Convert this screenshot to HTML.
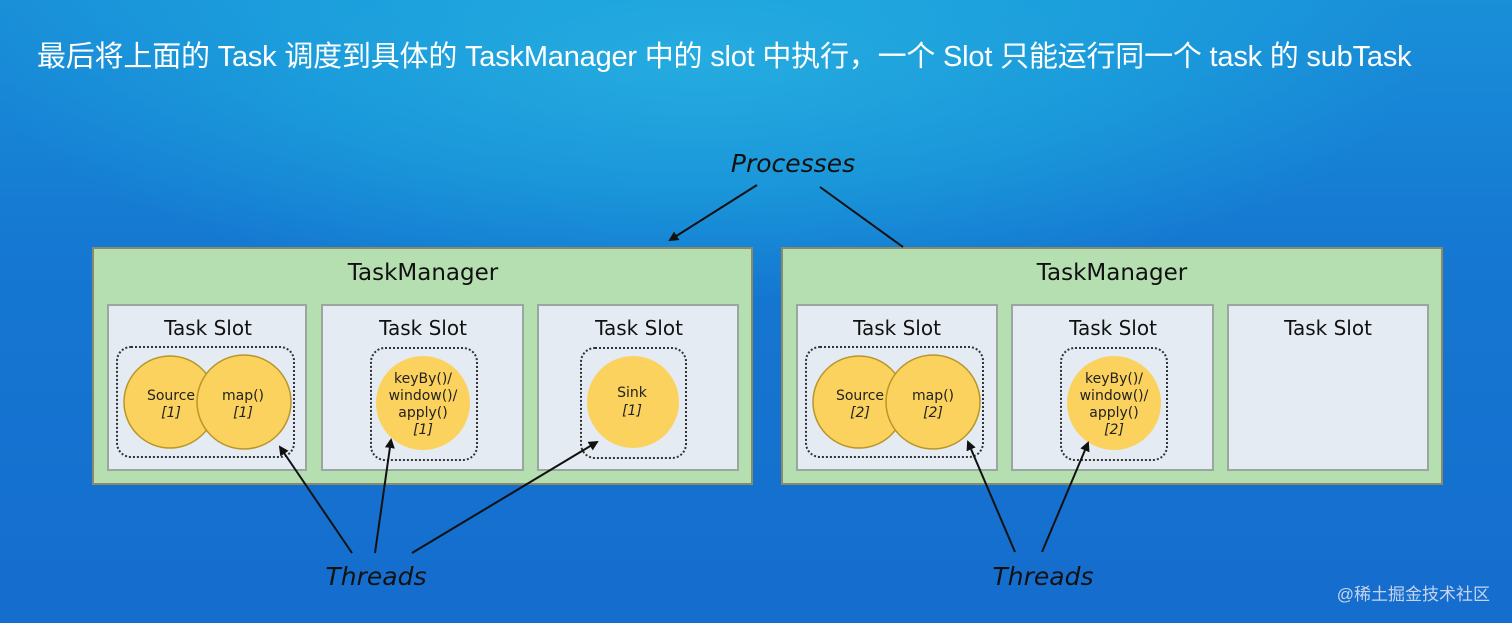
<!DOCTYPE html>
<html><head><meta charset="utf-8"><style>
html,body{margin:0;padding:0}
body{width:1512px;height:623px;overflow:hidden;background:radial-gradient(ellipse 900px 300px at 700px 60px,#2bb0e0 0%,#1a95d8 45%,#1575d0 80%),#1568cc;position:relative;font-family:"Liberation Sans","DejaVu Sans",sans-serif}
.bg{position:absolute;inset:0;background:linear-gradient(180deg,rgba(30,170,225,0.5) 0%,rgba(20,130,215,0.2) 40%,rgba(20,90,200,0.3) 100%)}
.title{position:absolute;left:37px;top:33px;color:#fff;font-size:29px;font-family:"Liberation Sans","Noto Sans CJK SC",sans-serif;white-space:nowrap;letter-spacing:-0.2px}
svg{position:absolute;left:0;top:0}
</style></head><body>
<div class="bg"></div>
<div class="title">最后将上面的 Task 调度到具体的 TaskManager 中的 slot 中执行，一个 Slot 只能运行同一个 task 的 subTask</div>
<svg width="1512" height="623" viewBox="0 0 1512 623" font-family="DejaVu Sans, Liberation Sans, sans-serif">
<defs><marker id="a" markerWidth="10" markerHeight="10" refX="8" refY="5" orient="auto" markerUnits="userSpaceOnUse"><path d="M0,0 L10,5 L0,10 z" fill="#111"/></marker></defs>
<g stroke="#8a8a6a" stroke-width="2" fill="#b5dfb0">
<rect x="93" y="248" width="659" height="236"/>
<rect x="782" y="248" width="660" height="236"/>
</g>
<g stroke="#9aa6a0" stroke-width="2" fill="#e4ebf2">
<rect x="108" y="305" width="198" height="165"/>
<rect x="322" y="305" width="201" height="165"/>
<rect x="538" y="305" width="200" height="165"/>
<rect x="797" y="305" width="200" height="165"/>
<rect x="1012" y="305" width="201" height="165"/>
<rect x="1228" y="305" width="200" height="165"/>
</g>
<g fill="#111" font-size="23" text-anchor="middle">
<text x="423" y="280">TaskManager</text>
<text x="1112" y="280">TaskManager</text>
</g>
<g fill="#111" font-size="20" text-anchor="middle">
<text x="208" y="335">Task Slot</text><text x="423" y="335">Task Slot</text><text x="639" y="335">Task Slot</text>
<text x="897" y="335">Task Slot</text><text x="1113" y="335">Task Slot</text><text x="1328" y="335">Task Slot</text>
</g>
<g fill="none" stroke="#333" stroke-width="2" stroke-dasharray="2,2">
<rect x="117" y="347" width="177" height="110" rx="14"/>
<rect x="371" y="348" width="106" height="112" rx="14"/>
<rect x="581" y="348" width="105" height="110" rx="14"/>
<rect x="806" y="347" width="177" height="110" rx="14"/>
<rect x="1061" y="348" width="106" height="112" rx="14"/>
</g>
<g fill="#fcd25e" stroke="#b8962a" stroke-width="1.5">
<circle cx="170" cy="402" r="46"/><circle cx="244" cy="402" r="47"/>
<circle cx="423" cy="403" r="47" stroke="none"/><circle cx="633" cy="402" r="46" stroke="none"/>
<circle cx="859" cy="402" r="46"/><circle cx="933" cy="402" r="47"/>
<circle cx="1114" cy="403" r="47" stroke="none"/>
</g>
<g fill="#222" font-size="14" text-anchor="middle">
<text x="171" y="400">Source</text><text x="171" y="417" font-style="italic">[1]</text>
<text x="243" y="400">map()</text><text x="243" y="417" font-style="italic">[1]</text>
<text x="423" y="383">keyBy()/</text><text x="423" y="400">window()/</text><text x="423" y="417">apply()</text><text x="423" y="434" font-style="italic">[1]</text>
<text x="632" y="397">Sink</text><text x="632" y="415" font-style="italic">[1]</text>
<text x="860" y="400">Source</text><text x="860" y="417" font-style="italic">[2]</text>
<text x="933" y="400">map()</text><text x="933" y="417" font-style="italic">[2]</text>
<text x="1114" y="383">keyBy()/</text><text x="1114" y="400">window()/</text><text x="1114" y="417">apply()</text><text x="1114" y="434" font-style="italic">[2]</text>
</g>
<g fill="#111" font-size="25" font-style="italic" text-anchor="middle">
<text x="793" y="172">Processes</text>
<text x="376" y="585">Threads</text>
<text x="1043" y="585">Threads</text>
</g>
<g stroke="#111" stroke-width="2" fill="none">
<line x1="757" y1="185" x2="670" y2="240" marker-end="url(#a)"/>
<line x1="820" y1="187" x2="903" y2="247"/>
<line x1="352" y1="553" x2="280" y2="447" marker-end="url(#a)"/>
<line x1="375" y1="553" x2="391" y2="440" marker-end="url(#a)"/>
<line x1="412" y1="553" x2="597" y2="442" marker-end="url(#a)"/>
<line x1="1015" y1="552" x2="968" y2="442" marker-end="url(#a)"/>
<line x1="1042" y1="552" x2="1088" y2="443" marker-end="url(#a)"/>
</g>
<text x="1490" y="600" text-anchor="end" fill="#c8d4ee" font-size="17" font-family="Liberation Sans, Noto Sans CJK SC, sans-serif">@稀土掘金技术社区</text>
</svg>
</body></html>
